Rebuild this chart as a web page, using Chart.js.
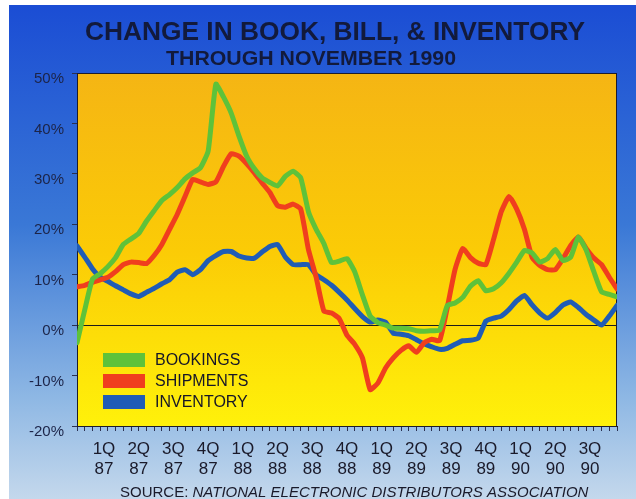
<!DOCTYPE html>
<html>
<head>
<meta charset="utf-8">
<script src="https://cdn.jsdelivr.net/npm/chart.js@4.4.0/dist/chart.umd.min.js"></script>
<style>
  html, body { margin: 0; padding: 0; background: #fff; }
  #wrap { width: 636px; height: 499px; }
</style>
</head>
<body>
<div id="wrap"><canvas id="myChart" width="636" height="499"></canvas></div>
<script>
// values, two points per ~month (Jan 87 .. Nov 90)
const bookings = [
  -3.5, 3, 9.1, 10.2, 11.6, 13.4, 16, 17.1, 18.2, 20.6,
  22.7, 24.7, 25.9, 27.3, 29, 30.2, 31.2, 34.5, 47.8, 45.2,
  42, 37.5, 33.5, 31, 29.2, 28.3, 27.6, 29.5, 30.5, 29.2,
  22.5, 19, 16.2, 12.4, 12.7, 13.2, 10.6, 6, 1.8, 0.5,
  0, -0.6, -0.6, -0.7, -1.1, -1.2, -1.1, -1, 3.9, 4.4,
  5.5, 7.7, 8.8, 6.8, 7.2, 8.4, 10.3, 12.5, 14.8, 14.3,
  12.5, 13.2, 15, 12.8, 13.5, 17.5, 14.9, 10.6, 6.6, 6.1,
  5.6
];
const shipments = [
  7.6, 7.9, 8.5, 9, 9.5, 10.6, 12, 12.5, 12.4, 12.2,
  13.8, 16, 19, 22, 25.5, 28.9, 28.4, 27.9, 28.4, 31.5,
  34, 33.5, 32, 30.2, 28.2, 26.3, 23.7, 23.4, 24, 23,
  15, 9.5, 2.8, 2.4, 1.3, -2, -3.8, -6.5, -12.8, -11.5,
  -8.5, -6.5, -5, -4.1, -5.4, -3.5, -2.8, -3.1, 3.5, 11,
  15.2, 13.4, 12.3, 12, 17, 22.5, 25.5, 23, 19, 13.4,
  11.8, 11, 11, 13.2, 15.8, 17.5, 15.2, 13.3, 12, 9.5,
  7.2
];
const inventory = [
  15.7, 13.5, 11.2, 9.5, 8.7, 7.8, 7, 6.2, 5.7, 6.5,
  7.3, 8.2, 9, 10.5, 11, 10, 11, 12.8, 13.8, 14.6,
  14.6, 13.7, 13.3, 13.3, 14.5, 15.6, 16, 13.5, 12, 12,
  12, 10, 9, 7.9, 6.5, 5, 3.3, 1.7, 0.6, 1,
  0.6, -1.6, -1.8, -2.1, -2.9, -3.7, -4.3, -4.8, -4.6, -3.8,
  -3.1, -3, -2.6, 0.8, 1.4, 1.8, 3.1, 4.8, 5.9, 4,
  2.4, 1.4, 2.5, 4, 4.6, 3.5, 2.1, 1, 0, 1.8,
  3.9
];
const quarterLabels = [
  '1Q 87', '2Q 87', '3Q 87', '4Q 87',
  '1Q 88', '2Q 88', '3Q 88', '4Q 88',
  '1Q 89', '2Q 89', '3Q 89', '4Q 89',
  '1Q 90', '2Q 90', '3Q 90'
];
const seriesNames = ['BOOKINGS', 'SHIPMENTS', 'INVENTORY'];
const seriesColors = ['#5ec23a', '#f03e1e', '#1f5cb6'];

const lastIdx = bookings.length - 1;
function toPoints(arr) {
    return arr.map((v, i) => ({ x: i, y: v }));
}

const backdrop = {
    id: 'backdrop',
    beforeDraw(chart) {
        const ctx = chart.ctx;
        const a = chart.chartArea;
        ctx.save();
        ctx.fillStyle = '#ffffff';
        ctx.fillRect(0, 0, chart.width, chart.height);
        // blue page behind the chart
        let g = ctx.createLinearGradient(0, 0, 0, chart.height);
        g.addColorStop(0, '#1a4cd4');
        g.addColorStop(0.45, '#3a78d6');
        g.addColorStop(0.8, '#8fb8e4');
        g.addColorStop(1, '#c4d8ec');
        ctx.fillStyle = g;
        ctx.fillRect(9, 5, chart.width - 9, chart.height - 5);
        // yellow plot area
        g = ctx.createLinearGradient(0, a.top, 0, a.bottom);
        g.addColorStop(0, '#f5b514');
        g.addColorStop(0.5, '#fbcb06');
        g.addColorStop(1, '#fff10a');
        ctx.fillStyle = g;
        ctx.fillRect(a.left, a.top, a.right - a.left, a.bottom - a.top);
        ctx.strokeStyle = '#1c1c2c';
        ctx.lineWidth = 1;
        ctx.strokeRect(a.left + 0.5, a.top + 0.5, a.right - a.left - 1, a.bottom - a.top);
        ctx.restore();
    }
};

const texts = {
    id: 'texts',
    afterDraw(chart) {
        const ctx = chart.ctx;
        ctx.save();
        ctx.fillStyle = '#121a3c';
        ctx.textAlign = 'center';
        ctx.textBaseline = 'alphabetic';

        function squeezed(str, font, cx, y, width) {
            ctx.font = font;
            const w = ctx.measureText(str).width;
            ctx.save();
            ctx.translate(cx, y);
            ctx.scale(width / w, 1);
            ctx.fillText(str, 0, 0);
            ctx.restore();
        }
        squeezed('CHANGE IN BOOK, BILL, & INVENTORY', 'bold 26px "Liberation Sans"', 335, 40, 500);
        squeezed('THROUGH NOVEMBER 1990', 'bold 20px "Liberation Sans"', 311, 65, 290);

        // source line
        ctx.textAlign = 'left';
        ctx.fillStyle = '#1a1a2a';
        ctx.font = '15px "Liberation Sans"';
        const pre = 'SOURCE: ';
        ctx.fillText(pre, 120, 497);
        const pw = ctx.measureText(pre).width;
        ctx.font = 'italic 15px "Liberation Sans"';
        ctx.fillText('NATIONAL ELECTRONIC DISTRIBUTORS ASSOCIATION', 120 + pw, 497);

        // legend inside plot
        const a = chart.chartArea;
        chart.data.datasets.forEach((ds, i) => {
            const cy = a.bottom - 66 + i * 21;
            ctx.fillStyle = ds.borderColor;
            ctx.fillRect(a.left + 26, cy - 7, 42, 14);
            ctx.fillStyle = '#161628';
            ctx.font = '16px "Liberation Sans"';
            ctx.textBaseline = 'middle';
            ctx.fillText(ds.label, a.left + 78, cy + 1);
        });
        ctx.restore();
    }
};

const ctx = document.getElementById('myChart').getContext('2d');
const myChart = new Chart(ctx, {
    type: 'line',
    data: {
        datasets: [bookings, shipments, inventory].map((arr, i) => ({
            label: seriesNames[i],
            data: toPoints(arr),
            borderColor: seriesColors[i],
            backgroundColor: seriesColors[i],
            borderWidth: 5,
            pointRadius: 0,
            tension: 0.15,
            borderJoinStyle: 'round',
            borderCapStyle: 'round',
            fill: false
        }))
    },
    options: {
        responsive: false,
        animation: false,
        layout: { padding: { top: 73, right: 19, left: 0, bottom: 0 } },
        plugins: {
            legend: { display: false },
            title: { display: false },
            tooltip: { enabled: false }
        },
        scales: {
            x: {
                type: 'linear',
                position: 'bottom',
                weight: 0,
                min: 0,
                max: lastIdx,
                afterBuildTicks: (s) => {
                    s.ticks = bookings.map((v, i) => ({ value: i }));
                },
                afterFit: (s) => { s.height = 6; },
                ticks: { autoSkip: false, maxRotation: 0, padding: 0, callback: () => '' },
                grid: { drawOnChartArea: false, tickLength: 5, tickColor: '#2a3050', lineWidth: 1 },
                border: { color: '#1c1c2c' }
            },
            xq: {
                type: 'linear',
                position: 'bottom',
                weight: 1,
                min: 0,
                max: lastIdx,
                afterBuildTicks: (s) => {
                    s.ticks = quarterLabels.map((l, q) => ({ value: 3.5 + q * 4.5 }));
                },
                afterFit: (s) => { s.height = 67; },
                ticks: {
                    autoSkip: false,
                    maxRotation: 0,
                    padding: 7,
                    color: '#1a1a2a',
                    font: { family: 'Liberation Sans', size: 17 },
                    callback: (v, i) => quarterLabels[i].split(' ')
                },
                grid: { display: false, drawTicks: false },
                border: { display: false }
            },
            y: {
                min: -20,
                max: 50,
                afterFit: (s) => { s.width = 77; },
                ticks: {
                    stepSize: 10,
                    padding: 8,
                    labelOffset: 6,
                    color: '#1c2448',
                    font: { family: 'Liberation Sans', size: 15 },
                    callback: (v) => v + '%'
                },
                grid: {
                    tickLength: 5,
                    tickColor: '#2a3050',
                    color: (c) => (c.tick && c.tick.value === 0) ? '#1c1c1c' : 'rgba(0,0,0,0)'
                },
                border: { color: '#1c1c2c' }
            }
        }
    },
    plugins: [backdrop, texts]
});
</script>
</body>
</html>
